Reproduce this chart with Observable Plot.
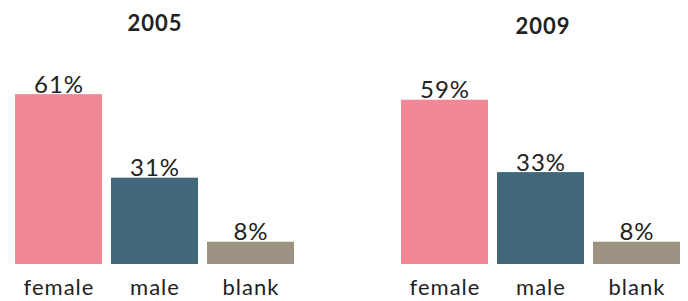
<!DOCTYPE html>
<html>
<head>
<meta charset="utf-8">
<script src="https://cdn.jsdelivr.net/npm/d3@7"></script>
<script src="https://cdn.jsdelivr.net/npm/@observablehq/plot@0.6"></script>
<style>
  html, body { margin: 0; padding: 0; background: #fff; }
  #chart svg { display: block; }
  #chart svg text { letter-spacing: 1px; }
</style>
</head>
<body>
<div id="chart"></div>
<script>
const years = ["2005", "2009"];
const categories = ["female", "male", "blank"];
const values2005 = [61, 31, 8];
const values2009 = [59, 33, 8];
const colors = ["#F28896", "#41677B", "#9E9282"];

const rows = [];
categories.forEach((c, i) => rows.push({year: years[0], category: c, value: values2005[i]}));
categories.forEach((c, i) => rows.push({year: years[1], category: c, value: values2009[i]}));

const font = "Lato, 'Open Sans', sans-serif";

const chart = Plot.plot({
  width: 688,
  height: 301,
  marginLeft: 14,
  marginRight: 6,
  marginTop: 44,
  marginBottom: 37,
  style: {fontFamily: font, color: "#222", background: "#fff"},
  fx: {domain: years, paddingInner: 0.271, paddingOuter: 0, axis: null},
  x: {domain: categories, paddingInner: 0.093, paddingOuter: 0, label: null},
  y: {domain: [0, 79], axis: null},
  color: {domain: categories, range: colors},
  marks: [
    Plot.barY(rows, {fx: "year", x: "category", y: "value", fill: "category"}),
    Plot.text(rows, {fx: "year", x: "category", y: "value", text: d => d.value + "%",
      lineAnchor: "bottom", dy: -2, fontSize: 24, fill: "#222"}),
    Plot.axisX({tickSize: 0, tickPadding: 15, fontSize: 22, label: null}),
    Plot.text([years[0]], {fx: d => d, text: d => d, frameAnchor: "top", dy: -29.5,
      fontSize: 22, fontWeight: "bold", fill: "#222"}),
    Plot.text([years[1]], {fx: d => d, text: d => d, frameAnchor: "top", dy: -26.5, dx: 2,
      fontSize: 22, fontWeight: "bold", fill: "#222"})
  ]
});
document.getElementById("chart").appendChild(chart);
</script>
</body>
</html>
